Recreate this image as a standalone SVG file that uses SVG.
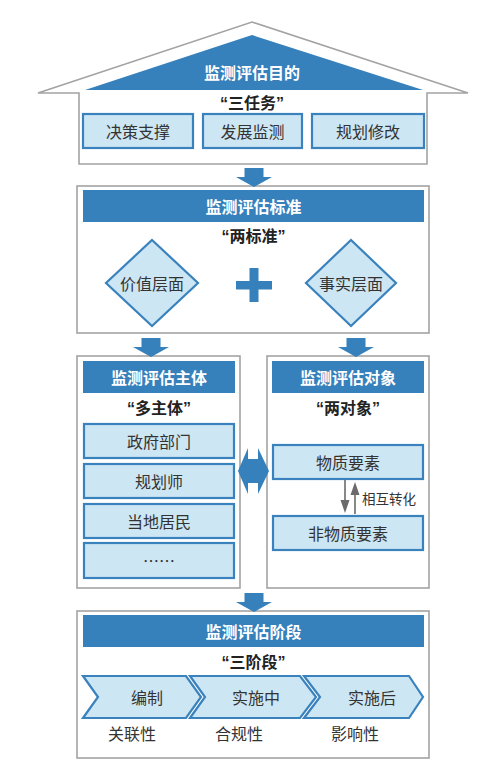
<svg xmlns="http://www.w3.org/2000/svg" width="495" height="770" viewBox="0 0 495 770">
<defs>
<style>
.frame{fill:#fff;stroke:#a3a3a3;stroke-width:1.6}
.hdr{fill:#3680bb}
.box{fill:#cde6f4;stroke:#3a82bd;stroke-width:2.2}
.ttl{font-family:"Noto Sans CJK SC","Noto Sans",sans-serif;font-weight:bold;font-size:16px;fill:#fff;text-anchor:middle;dominant-baseline:central}
.sub{font-family:"Liberation Sans","Noto Sans CJK SC",sans-serif;font-weight:bold;font-size:16px;fill:#222;text-anchor:middle;dominant-baseline:central}
.lbl{font-family:"Noto Sans CJK SC",sans-serif;font-size:16px;fill:#333;text-anchor:middle;dominant-baseline:central}
.sm{font-family:"Noto Sans CJK SC",sans-serif;font-size:13.5px;fill:#333;dominant-baseline:central}
.big{fill:#3680bb}
</style>
<path id="dn" d="M-9.5,-19 H9.5 V-10 H18 L0,0 L-18,-10 H-9.5 Z"/>
</defs>

<g id="purpose">
<polygon class="frame" points="79,164 79,93 38,93 252,22 468,93 427,93 427,164"/>
<polygon class="hdr" points="85,90 252,35 423,90"/>
<text class="ttl" x="252" y="72">监测评估目的</text>
<text class="sub" x="252" y="103">“三任务”</text>
<rect class="box" x="83" y="114" width="110" height="34"/>
<text class="lbl" x="138" y="131">决策支撑</text>
<rect class="box" x="203" y="114" width="99" height="34"/>
<text class="lbl" x="252.5" y="131">发展监测</text>
<rect class="box" x="312" y="114" width="112" height="34"/>
<text class="lbl" x="368" y="131">规划修改</text>
</g>

<g id="standard">
<rect class="frame" x="77" y="186" width="352" height="147"/>
<rect class="hdr" x="83" y="190" width="341" height="32"/>
<text class="ttl" x="253.5" y="206">监测评估标准</text>
<text class="sub" x="253.5" y="236">“两标准”</text>
<polygon class="box" points="152,240 198,283 152,326 106,283"/>
<text class="lbl" x="152" y="283">价值层面</text>
<polygon class="box" points="351,240 396,283 351,326 306,283"/>
<text class="lbl" x="351" y="283">事实层面</text>
<path class="big" d="M249.5,268 H258.5 V281 H272 V289.5 H258.5 V302 H249.5 V289.5 H236 V281 H249.5 Z"/>
</g>

<g id="subject">
<rect class="frame" x="77" y="356" width="163" height="232"/>
<rect class="hdr" x="83" y="361" width="152" height="32"/>
<text class="ttl" x="159" y="377">监测评估主体</text>
<text class="sub" x="159" y="408">“多主体”</text>
<rect class="box" x="84" y="424" width="150" height="34"/>
<text class="lbl" x="159" y="441">政府部门</text>
<rect class="box" x="84" y="464" width="150" height="34"/>
<text class="lbl" x="159" y="481">规划师</text>
<rect class="box" x="84" y="504" width="150" height="34"/>
<text class="lbl" x="159" y="521">当地居民</text>
<rect class="box" x="84" y="543" width="150" height="35"/>
<text class="lbl" x="159" y="560">……</text>
</g>

<g id="object">
<rect class="frame" x="267" y="356" width="162" height="232"/>
<rect class="hdr" x="272" y="361" width="152" height="32"/>
<text class="ttl" x="348" y="377">监测评估对象</text>
<text class="sub" x="348" y="408">“两对象”</text>
<rect class="box" x="273" y="445" width="150" height="34"/>
<text class="lbl" x="348" y="462">物质要素</text>
<rect class="box" x="273" y="516" width="150" height="34"/>
<text class="lbl" x="348" y="533">非物质要素</text>
<text class="sm" x="362" y="498">相互转化</text>
</g>

<g id="stage">
<rect class="frame" x="77" y="611" width="352" height="147"/>
<rect class="hdr" x="83" y="615" width="341" height="32"/>
<text class="ttl" x="253.5" y="631">监测评估阶段</text>
<text class="sub" x="253.5" y="662">“三阶段”</text>
<polygon class="box" points="83,676 186,676 201,697 186,718 83,718 98,697"/>
<text class="lbl" x="147" y="697">编制</text>
<polygon class="box" points="190,676 300,676 316,697 300,718 190,718 205,697"/>
<text class="lbl" x="256" y="697">实施中</text>
<polygon class="box" points="304,676 409,676 423,697 409,718 304,718 320,697"/>
<text class="lbl" x="372" y="697">实施后</text>
<text class="lbl" x="132" y="733">关联性</text>
<text class="lbl" x="239" y="733">合规性</text>
<text class="lbl" x="355" y="733">影响性</text>
</g>

<g id="connectors">
<use href="#dn" class="big" x="254" y="187"/>
<use href="#dn" class="big" x="151" y="357"/>
<use href="#dn" class="big" x="356" y="357"/>
<use href="#dn" class="big" x="254" y="612"/>
<path class="big" d="M238,471 L248,448 V459 H258 V448 L269,471 L258,494 V483 H248 V494 Z"/>
<g fill="#6b6b6b" stroke="#6b6b6b">
<line x1="345" y1="480" x2="345" y2="500" stroke-width="1.6"/>
<polygon points="340.5,500 349.5,500 345,513" stroke="none"/>
<line x1="355" y1="495" x2="355" y2="514" stroke-width="1.6"/>
<polygon points="350.5,495 359.5,495 355,482" stroke="none"/>
</g>
</g>
</svg>
